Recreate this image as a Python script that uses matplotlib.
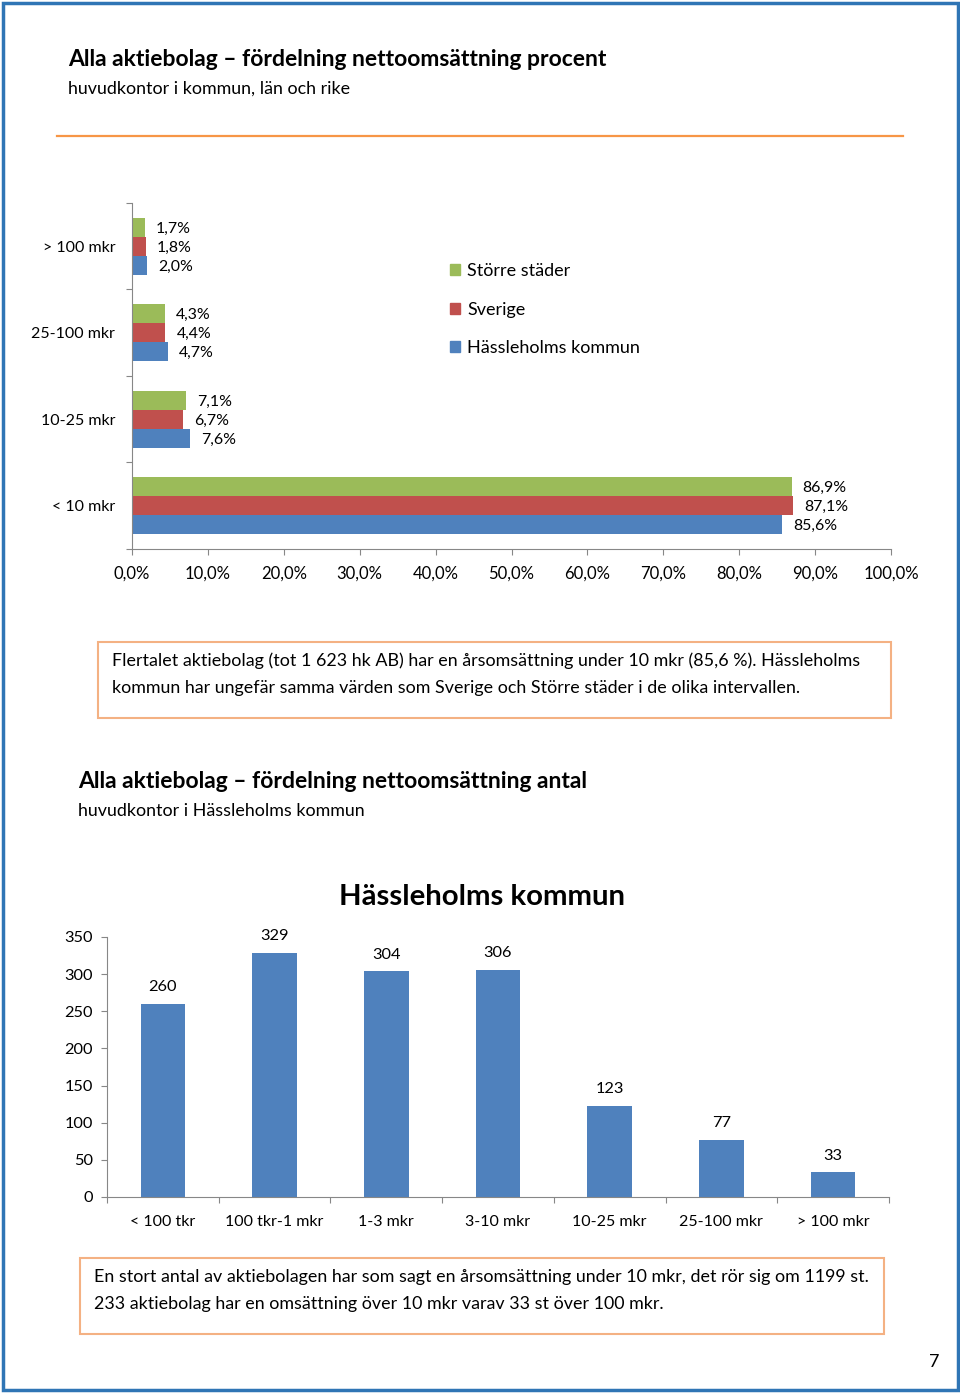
import matplotlib.pyplot as plt
from matplotlib.patches import Rectangle, Patch
from matplotlib.lines import Line2D

# Data - top chart (percent)
kategorier_pct = ["< 10 mkr", "10-25 mkr", "25-100 mkr", "> 100 mkr"]
storre_stader = [86.9, 7.1, 4.3, 1.7]
sverige = [87.1, 6.7, 4.4, 1.8]
hassleholm_pct = [85.6, 7.6, 4.7, 2.0]
serier = ["Större städer", "Sverige", "Hässleholms kommun"]

# Data - bottom chart (antal)
kategorier_antal = ["< 100 tkr", "100 tkr-1 mkr", "1-3 mkr", "3-10 mkr",
                    "10-25 mkr", "25-100 mkr", "> 100 mkr"]
antal = [260, 329, 304, 306, 123, 77, 33]

GREEN = '#9BBB59'
RED = '#C0504D'
BLUE = '#4F81BD'
ORANGE = '#F79646'
GRAY = '#878787'

plt.rcParams['font.family'] = ['Lato', 'DejaVu Sans']

W, H = 960, 1396
fig = plt.figure(figsize=(W / 100, H / 100), dpi=100)


def box(x0, y0, x1, y1):
    # pixel coordinates (top-left origin) -> figure fraction rect
    return [x0 / W, 1 - y1 / H, (x1 - x0) / W, (y1 - y0) / H]


def fx(x):
    return x / W


def fy(y):
    return 1 - y / H


# page border
fig.patches.append(Rectangle((fx(3), fy(1390)), fx(955), (1390 - 3) / H,
                             transform=fig.transFigure, fill=False,
                             edgecolor='#2F75B5', linewidth=2.5))

# Headings
fig.text(fx(68), fy(59), "Alla aktiebolag – fördelning nettoomsättning procent",
         fontsize=16.5, fontweight='bold', va='center')
fig.text(fx(68), fy(89), "huvudkontor i kommun, län och rike", fontsize=12.9, va='center')
fig.add_artist(Line2D([fx(57), fx(903)], [fy(136), fy(136)], color=ORANGE,
                      linewidth=1.6, transform=fig.transFigure))

# ---- Horizontal bar chart ----
ax1 = fig.add_axes(box(132, 203, 891, 549))
y = list(range(len(kategorier_pct)))
h = 0.22
b1 = ax1.barh([v + h for v in y], storre_stader, height=h, color=GREEN)
b2 = ax1.barh(y, sverige, height=h, color=RED)
b3 = ax1.barh([v - h for v in y], hassleholm_pct, height=h, color=BLUE)
for bars in (b1, b2, b3):
    for rect in bars:
        val = rect.get_width()
        ax1.annotate(f"{val:.1f}%".replace('.', ','),
                     (val, rect.get_y() + rect.get_height() / 2),
                     xytext=(8, -1), textcoords='offset points',
                     va='center', ha='left', fontsize=11.4)

ax1.set_xlim(0, 100)
ax1.set_ylim(-0.5, 3.5)
ax1.set_xticks(range(0, 101, 10))
ax1.set_xticklabels([f"{v},0%" for v in range(0, 101, 10)], fontsize=12)
ax1.set_yticks([-0.5, 0.5, 1.5, 2.5, 3.5])
ax1.set_yticklabels([])
ax1.set_yticks(y, minor=True)
ax1.set_yticklabels(kategorier_pct, minor=True, fontsize=11.5)
ax1.tick_params(axis='y', which='minor', length=0, pad=12)
ax1.tick_params(axis='both', which='major', length=4, color=GRAY, direction='out')
ax1.tick_params(axis='x', pad=8)
for s in ('top', 'right'):
    ax1.spines[s].set_visible(False)
for s in ('left', 'bottom'):
    ax1.spines[s].set_color(GRAY)

handles = [Patch(color=c) for c in (GREEN, RED, BLUE)]
fig.legend(handles, serier, loc='upper left',
           bbox_to_anchor=(fx(450), fy(263)), frameon=False, fontsize=13,
           handlelength=0.55, handleheight=0.55, handletextpad=0.4,
           labelspacing=1.25, borderpad=0, borderaxespad=0)

# Text box 1
fig.patches.append(Rectangle((fx(98), fy(718)), (891 - 98) / W, (718 - 642) / H,
                             transform=fig.transFigure, fill=False,
                             edgecolor='#F4B183', linewidth=1.5))
fig.text(fx(112), fy(661),
         "Flertalet aktiebolag (tot 1 623 hk AB) har en årsomsättning under 10 mkr (85,6 %). Hässleholms",
         fontsize=12.85, va='center')
fig.text(fx(112), fy(688),
         "kommun har ungefär samma värden som Sverige och Större städer i de olika intervallen.",
         fontsize=12.85, va='center')

# Headings 2
fig.text(fx(78), fy(781), "Alla aktiebolag – fördelning nettoomsättning antal",
         fontsize=16.5, fontweight='bold', va='center')
fig.text(fx(78), fy(811), "huvudkontor i Hässleholms kommun", fontsize=12.9, va='center')

# ---- Vertical bar chart ----
ax2 = fig.add_axes(box(107, 937, 889, 1197))
x = list(range(len(kategorier_antal)))
bars = ax2.bar(x, antal, width=0.4, color=BLUE)
for rect, val in zip(bars, antal):
    ax2.annotate(str(val), (rect.get_x() + rect.get_width() / 2, val),
                 xytext=(0, 12), textcoords='offset points',
                 ha='center', va='center', fontsize=11.8)
ax2.set_ylim(0, 350)
ax2.set_xlim(-0.5, 6.5)
ax2.set_yticks(range(0, 351, 50))
ax2.set_yticklabels([str(v) for v in range(0, 351, 50)], fontsize=11.8)
ax2.set_xticks([v - 0.5 for v in range(8)])
ax2.set_xticklabels([])
ax2.set_xticks(x, minor=True)
ax2.set_xticklabels(kategorier_antal, minor=True, fontsize=11.5)
ax2.tick_params(axis='x', which='minor', length=0, pad=13)
ax2.tick_params(axis='both', which='major', length=4, color=GRAY, direction='out')
ax2.tick_params(axis='y', pad=6)
for s in ('top', 'right'):
    ax2.spines[s].set_visible(False)
for s in ('left', 'bottom'):
    ax2.spines[s].set_color(GRAY)
fig.text(fx(482), fy(897), "Hässleholms kommun", fontsize=21.2, fontweight='bold',
         ha='center', va='center')

# Text box 2
fig.patches.append(Rectangle((fx(80), fy(1334)), (884 - 80) / W, (1334 - 1258) / H,
                             transform=fig.transFigure, fill=False,
                             edgecolor='#F4B183', linewidth=1.5))
fig.text(fx(94), fy(1277),
         "En stort antal av aktiebolagen har som sagt en årsomsättning under 10 mkr, det rör sig om 1199 st.",
         fontsize=12.9, va='center')
fig.text(fx(94), fy(1304),
         "233 aktiebolag har en omsättning över 10 mkr varav 33 st över 100 mkr.",
         fontsize=12.9, va='center')

fig.text(fx(934), fy(1362), "7", fontsize=13, ha='center', va='center')

plt.savefig('out.png', dpi=100)
